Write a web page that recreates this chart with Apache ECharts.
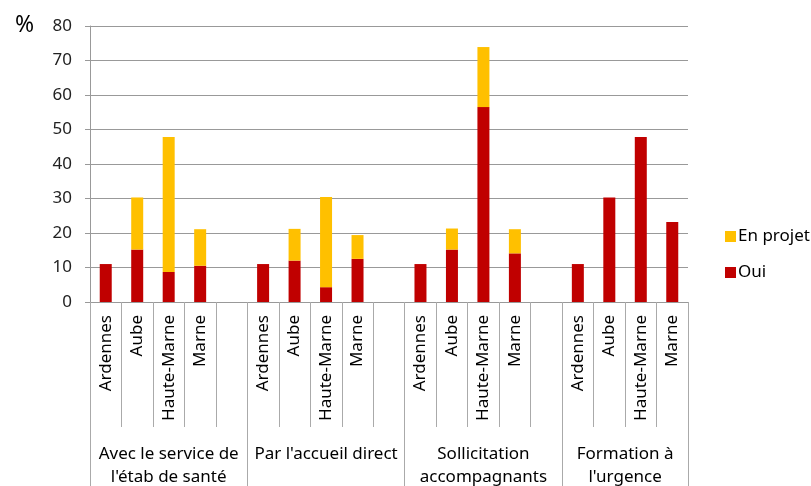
<!DOCTYPE html>
<html>
<head>
<meta charset="utf-8">
<script src="https://cdn.jsdelivr.net/npm/echarts@6/dist/echarts.min.js"></script>
<style>html,body{margin:0;padding:0;background:#fff}#c{width:811px;height:486px}</style>
</head>
<body>
<div id="c"></div>
<script>
const categories = ['Ardennes','Aube','Haute-Marne','Marne','',
                    'Ardennes','Aube','Haute-Marne','Marne','',
                    'Ardennes','Aube','Haute-Marne','Marne','',
                    'Ardennes','Aube','Haute-Marne','Marne'];
const groupNames = ["Avec le service de\nl'étab de santé", "Par l'accueil direct", "Sollicitation\naccompagnants", "Formation à\nl'urgence"];
const groupCenters = [2.5, 7.5, 12.5, 17];
const groupBounds = [0, 5, 10, 15, 19];
const oui = [11, 15.2, 8.7, 10.5, null,
             11, 12, 4.3, 12.5, null,
             11, 15.2, 56.5, 14.1, null,
             11, 30.3, 47.8, 23.2];
const enProjet = [0, 15.1, 39.1, 10.6, null,
                  0, 9.2, 26.1, 6.9, null,
                  0, 6.1, 17.4, 7.0, null,
                  0, 0, 0, 0];
const yTicks = [0, 10, 20, 30, 40, 50, 60, 70, 80];

const FONT = 'Noto Sans';
const FS = 17;
const chart = echarts.init(document.getElementById('c'), null, {renderer: 'canvas'});
chart.setOption({
  animation: false,
  textStyle: {fontFamily: FONT},
  title: {text: '%', left: 10, top: 9, textStyle: {fontSize: 23, fontWeight: 'normal', color: '#000', fontFamily: FONT}},
  legend: {
    data: ['En projet', 'Oui'],
    orient: 'vertical',
    left: 720, top: 223,
    itemWidth: 11, itemHeight: 11, itemGap: 19,
    icon: 'rect',
    textStyle: {fontSize: FS, color: '#000', fontFamily: FONT, padding: [0,0,0,-3]}
  },
  grid: {left: 90, right: 123, top: 26, bottom: 184, containLabel: false, outerBoundsMode: 'none'},
  xAxis: [{
    type: 'category',
    data: categories,
    position: 'bottom',
    axisLine: {lineStyle: {color: '#999'}},
    axisTick: {show: true, interval: 0, length: 125, lineStyle: {color: '#aaa'}},
    axisLabel: {interval: 0, rotate: 90, margin: 13, fontSize: FS, color: '#000', fontFamily: FONT}
  }, {
    type: 'value',
    min: 0, max: 19,
    position: 'bottom',
    axisLine: {show: false},
    splitLine: {show: false},
    axisTick: {show: true, customValues: groupBounds, length: 184, lineStyle: {color: '#aaa'}},
    axisLabel: {
      customValues: groupCenters, margin: 141, fontSize: FS, color: '#000', fontFamily: FONT, lineHeight: 23,
      verticalAlign: 'top',
      formatter: function (v) {
        const i = groupCenters.indexOf(v);
        return i >= 0 ? groupNames[i] : '';
      }
    }
  }],
  yAxis: {
    type: 'value', min: 0, max: 80, interval: 10,
    axisLine: {show: true, lineStyle: {color: '#999'}},
    axisTick: {show: true, length: 5, lineStyle: {color: '#999'}},
    splitLine: {lineStyle: {color: '#999'}},
    axisLabel: {margin: 18, fontSize: FS, color: '#222', fontFamily: FONT,
      formatter: function (v) { return yTicks.indexOf(v) >= 0 ? String(v) : ''; }}
  },
  series: [{
    name: 'Oui', type: 'bar', stack: 'a', data: oui, barWidth: 12,
    itemStyle: {color: '#C00000'}
  }, {
    name: 'En projet', type: 'bar', stack: 'a', data: enProjet, barWidth: 12,
    itemStyle: {color: '#FFC000'}
  }]
});
</script>
</body>
</html>
